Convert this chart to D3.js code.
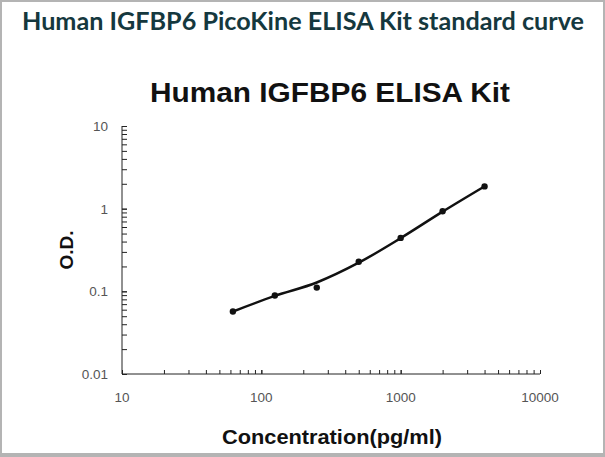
<!DOCTYPE html>
<html><head><meta charset="utf-8">
<script src="https://cdn.jsdelivr.net/npm/d3@7"></script>
<style>html,body{margin:0;padding:0;background:#fff;}svg{display:block;}</style>
</head><body>
<script>
const concentrations = [62.5, 125, 250, 500, 1000, 2000, 4000];
const odValues = [0.057, 0.089, 0.111, 0.228, 0.443, 0.93, 1.86];
const fitValues = [0.057, 0.088, 0.128, 0.222, 0.44, 0.92, 1.86];
const xTicks = [10, 100, 1000, 10000];
const yTicks = [0.01, 0.1, 1, 10];
const xTickLabels = ["10", "100", "1000", "10000"];
const yTickLabels = ["0.01", "0.1", "1", "10"];

const W = 605, H = 457;
const svg = d3.select("body").append("svg").attr("width", W).attr("height", H);
svg.append("rect").attr("width", W).attr("height", H).attr("fill", "#fff");
// frame
svg.append("rect").attr("x", 1).attr("y", 1).attr("width", W - 2).attr("height", H - 3)
  .attr("fill", "none").attr("stroke", "#b4b4b4").attr("stroke-width", 2);
svg.append("rect").attr("x", 0).attr("y", H - 4).attr("width", W).attr("height", 4).attr("fill", "#b4b4b4");

svg.append("text").attr("x", 303).attr("y", 30).attr("text-anchor", "middle")
  .attr("font-family", "Lato").attr("font-weight", "bold").attr("font-size", 25)
  .attr("textLength", 562).attr("lengthAdjust", "spacingAndGlyphs")
  .attr("fill", "#15383e").text("Human IGFBP6 PicoKine ELISA Kit standard curve");

const x = d3.scaleLog().domain([10, 10000]).range([122, 540]);
const y = d3.scaleLog().domain([0.01, 10]).range([374, 126]);

svg.append("text").attr("x", 330).attr("y", 102).attr("text-anchor", "middle")
  .attr("font-family", "Liberation Sans, Arial").attr("font-weight", "bold").attr("font-size", 27)
  .attr("textLength", 360).attr("lengthAdjust", "spacingAndGlyphs")
  .attr("fill", "#111").text("Human IGFBP6 ELISA Kit");

// axes
const minorX = [];
for (let d = 10; d < 10000; d *= 10) for (let k = 1; k <= 10; k++) minorX.push(d * k);
const minorY = [];
for (let d = 0.01; d < 9; d *= 10) for (let k = 1; k <= 10; k++) minorY.push(+(d * k).toPrecision(3));

const gx = svg.append("g").attr("transform", `translate(0,${y(0.01)})`);
gx.call(d3.axisTop(x).tickValues(minorX).tickSize(4).tickFormat(""));
gx.select(".domain").attr("d", `M${x(10)},0H${x(10000)}`);
gx.selectAll("line").attr("stroke", "#222");
gx.select(".domain").attr("stroke", "#222");

const gy = svg.append("g").attr("transform", `translate(${x(10)},0)`);
gy.call(d3.axisRight(y).tickValues(minorY).tickSize(5).tickFormat(""));
gy.select(".domain").attr("d", `M0,${y(10)}V${y(0.01)}`);
gy.selectAll("line").attr("stroke", "#222");
gy.select(".domain").attr("stroke", "#222");

// tick labels
svg.append("g").selectAll("text").data(xTicks).join("text")
  .attr("x", d => x(d)).attr("y", 402).attr("text-anchor", "middle")
  .attr("font-family", "Liberation Sans, Arial").attr("font-size", 13.5).attr("fill", "#555")
  .text((d, i) => xTickLabels[i]);
svg.append("g").selectAll("text").data(yTicks).join("text")
  .attr("x", 108).attr("y", d => y(d) + 5).attr("text-anchor", "end")
  .attr("font-family", "Liberation Sans, Arial").attr("font-size", 13.5).attr("fill", "#555")
  .text((d, i) => yTickLabels[i]);

// axis titles
svg.append("text").attr("transform", "translate(73,250) rotate(-90)").attr("text-anchor", "middle")
  .attr("font-family", "Liberation Sans, Arial").attr("font-weight", "bold").attr("font-size", 19)
  .attr("fill", "#111").text("O.D.");
svg.append("text").attr("x", 332).attr("y", 444).attr("text-anchor", "middle")
  .attr("font-family", "Liberation Sans, Arial").attr("font-weight", "bold").attr("font-size", 20)
  .attr("textLength", 220).attr("lengthAdjust", "spacingAndGlyphs")
  .attr("fill", "#111").text("Concentration(pg/ml)");

// fit curve
const line = d3.line().x((d, i) => x(concentrations[i])).y(d => y(d)).curve(d3.curveMonotoneX);
svg.append("path").attr("d", line(fitValues)).attr("fill", "none").attr("stroke", "#111").attr("stroke-width", 2.5);

svg.append("g").selectAll("circle").data(odValues).join("circle")
  .attr("cx", (d, i) => x(concentrations[i])).attr("cy", d => y(d)).attr("r", 3.2).attr("fill", "#111");
</script>
</body></html>
